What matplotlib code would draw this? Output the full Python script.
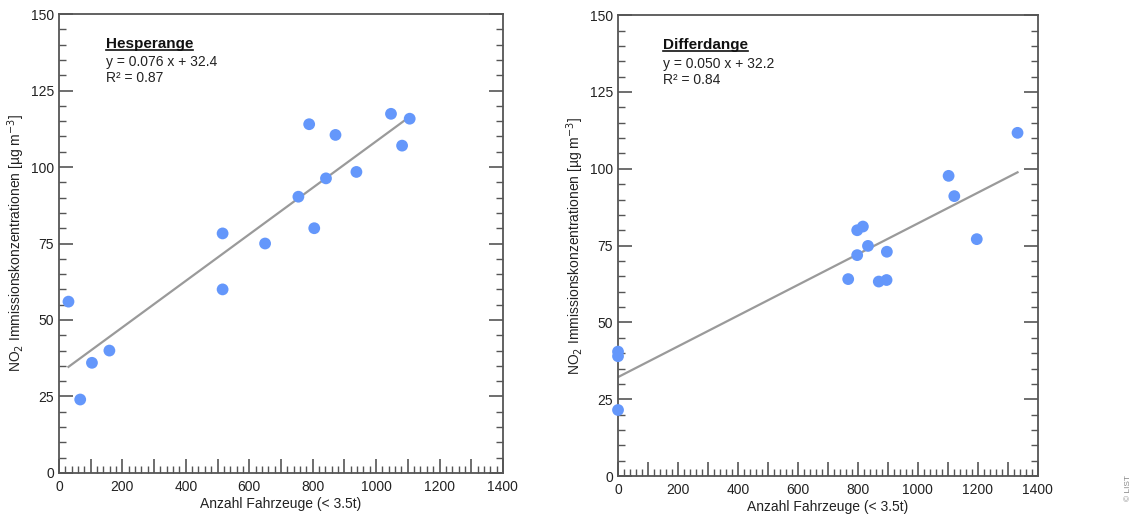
import numpy as np
import matplotlib
matplotlib.use("Agg")
import matplotlib.pyplot as plt
from matplotlib.ticker import MultipleLocator, FuncFormatter
from matplotlib.lines import Line2D

plt.rcParams["font.family"] = ["Liberation Sans", "DejaVu Sans"]

# Hesperange data
hesp_x = [30, 67, 104, 159, 516, 516, 650, 755, 789, 805, 842, 872, 938, 1047, 1082, 1106]
hesp_y = [56, 24, 36, 40, 60, 78.3, 75, 90.3, 114, 80, 96.3, 110.5, 98.4, 117.4, 107, 115.8]
hesp_fit = (0.076, 32.4)
hesp_r2 = "0.87"

# Differdange data
diff_x = [0, 0, 0, 768, 798, 798, 817, 834, 870, 896, 897, 1103, 1122, 1197, 1333]
diff_y = [40.5, 39, 21.5, 64.1, 80, 71.9, 81.2, 74.9, 63.3, 63.8, 73, 97.7, 91.1, 77.1, 111.7]
diff_fit = (0.050, 32.2)
diff_r2 = "0.84"

dot_color = "#6497FB"
line_color = "#9a9a9a"
frame_color = "#555555"

fig = plt.figure(figsize=(11.34, 5.22), dpi=100)
ax1 = fig.add_axes([0.052, 0.094, 0.3915, 0.879])
ax2 = fig.add_axes([0.545, 0.088, 0.370, 0.883])


def x_fmt(v, pos):
    return f"{int(v)}" if int(round(v)) % 200 == 0 else ""


def draw_panel(ax, xs, ys, fit, r2, name):
    slope, icpt = fit
    xl = np.array([min(xs), max(xs)])
    ax.plot(xl, slope * xl + icpt, color=line_color, lw=1.6, zorder=2)
    ax.scatter(xs, ys, s=72, color=dot_color, edgecolors="none", zorder=3, clip_on=False)

    ax.set_xlim(0, 1400)
    ax.set_ylim(0, 150)
    ax.xaxis.set_major_locator(MultipleLocator(100))
    ax.xaxis.set_minor_locator(MultipleLocator(20))
    ax.xaxis.set_major_formatter(FuncFormatter(x_fmt))
    ax.yaxis.set_major_locator(MultipleLocator(25))
    ax.yaxis.set_minor_locator(MultipleLocator(5))

    ax.tick_params(axis="both", which="both", direction="in", color=frame_color,
                   labelsize=10, labelcolor="#222222")
    ax.tick_params(axis="both", which="major", length=10, width=1.2)
    ax.tick_params(axis="both", which="minor", length=5, width=1.0)
    ax.tick_params(axis="y", which="both", left=True, right=True)
    ax.tick_params(axis="x", which="both", top=False, pad=5)
    for sp in ax.spines.values():
        sp.set_color(frame_color)
        sp.set_linewidth(1.3)

    ax.set_xlabel("Anzahl Fahrzeuge (< 3.5t)", fontsize=10, color="#222222", labelpad=2)
    ax.set_ylabel(r"NO$_2$ Immissionskonzentrationen [µg m$^{-3}$]", fontsize=10,
                  color="#222222", labelpad=3)

    t = ax.text(0.106, 0.935, name, transform=ax.transAxes, fontsize=11,
                fontweight="bold", color="#111111", va="center", ha="left")
    ax.text(0.106, 0.895, f"y = {slope:.3f} x + {icpt:.1f}", transform=ax.transAxes,
            fontsize=10, color="#222222", va="center", ha="left")
    ax.text(0.106, 0.86, f"R² = {r2}", transform=ax.transAxes,
            fontsize=10, color="#222222", va="center", ha="left")
    return t


titles = [draw_panel(ax1, hesp_x, hesp_y, hesp_fit, hesp_r2, "Hesperange"),
          draw_panel(ax2, diff_x, diff_y, diff_fit, diff_r2, "Differdange")]

# underline the panel titles
fig.canvas.draw()
renderer = fig.canvas.get_renderer()
inv = fig.transFigure.inverted()
for t in titles:
    bb = t.get_window_extent(renderer)
    (x0, y0), (x1, _) = inv.transform([(bb.x0, bb.y0 + 1), (bb.x1, bb.y0 + 1)])
    fig.add_artist(Line2D([x0, x1], [y0, y0], transform=fig.transFigure,
                          color="#111111", lw=1.2))

fig.text(0.998, 0.04, "© LIST", rotation=90, fontsize=6, color="#888888",
         ha="right", va="bottom")

fig.savefig("out.png", dpi=100)
